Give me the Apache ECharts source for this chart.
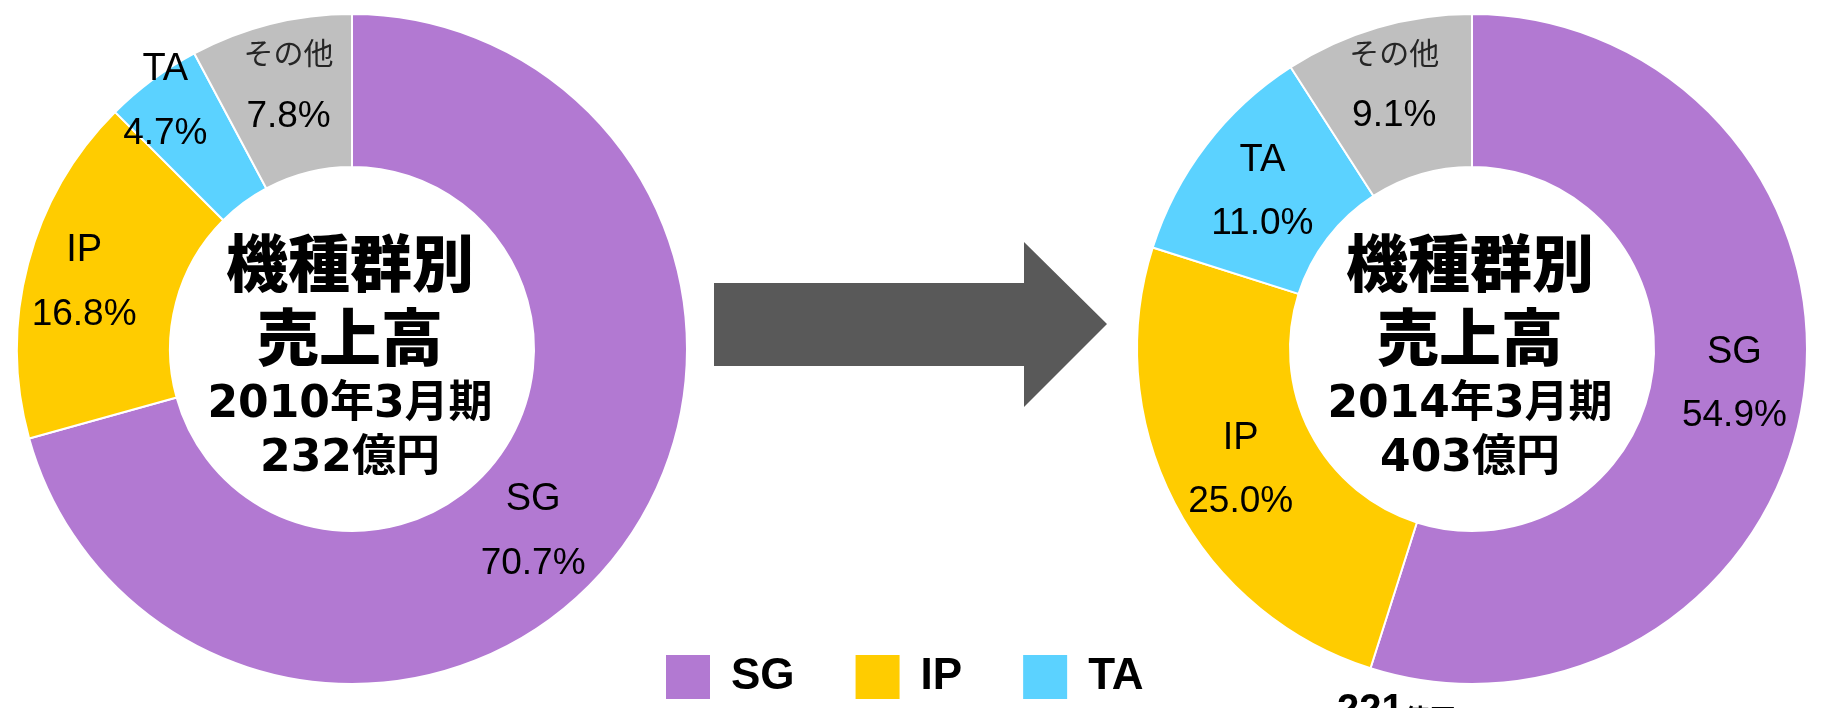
<!DOCTYPE html>
<html>
<head>
<meta charset="utf-8">
<script src="https://cdn.jsdelivr.net/npm/echarts@6/dist/echarts.min.js"></script>
<style>
html,body{margin:0;padding:0;background:#fff;}
#chart{width:1821px;height:708px;}
</style>
</head>
<body>
<div id="chart"></div>
<script>
// ---- data ----
const categories = ['SG', 'IP', 'TA', 'その他'];
const share2010 = [70.7, 16.8, 4.7, 7.8];
const share2014 = [54.9, 25.0, 11.0, 9.1];
const legendNames = ['SG', 'IP', 'TA'];
const centerTitle = ['機種群別', '売上高'];
const periods = ['2010年3月期', '2014年3月期'];
const totals = ['232億円', '403億円'];
const clippedNote = ['221', '億円'];

// ---- styles / layout ----
const colors = ['#B279D2', '#FFCC00', '#5BD2FF', '#BFBFBF'];
const labelOffsets2010 = [[-27, 24], [-15, 0], [-31, -37], [0, -11]];
const labelOffsets2014 = [[4, -5], [1, 1], [-2, 2], [-4, -14]];
const pieCenters = [[352, 349], [1472, 349]];
const radii = [182, 335];

const latin = "'Liberation Sans', 'Arial', sans-serif";
const cjk = "'Noto Sans CJK JP', sans-serif";

function buildData(values, offsets) {
  return categories.map((name, i) => ({
    name: name,
    value: values[i],
    itemStyle: { color: colors[i] },
    label: { offset: offsets[i] }
  }));
}

const labelCfg = {
  show: true,
  position: 'inside',
  formatter: function (p) {
    const nameStyle = p.name === 'その他' ? 'o' : 'n';
    return '{' + nameStyle + '|' + p.name + '}\n{v|' + p.value.toFixed(1) + '%}';
  },
  rich: {
    n: { fontFamily: latin, fontSize: 38, color: '#000', lineHeight: 64, align: 'center' },
    o: { fontFamily: cjk, fontSize: 30, color: '#262626', lineHeight: 64, align: 'center' },
    v: { fontFamily: latin, fontSize: 37, color: '#000', lineHeight: 64, align: 'center' }
  }
};

function pieSeries(values, offsets, center) {
  return {
    type: 'pie',
    center: center,
    radius: radii,
    startAngle: 90,
    clockwise: true,
    avoidLabelOverlap: false,
    silent: true,
    itemStyle: { borderColor: '#fff', borderWidth: 2 },
    label: labelCfg,
    labelLine: { show: false },
    emphasis: { disabled: true },
    data: buildData(values, offsets)
  };
}

function centerTexts(cx, period, total) {
  const heavy = { fontFamily: cjk, fontWeight: 900, fontSize: 62, fill: '#000', textAlign: 'center', textVerticalAlign: 'middle' };
  const mid = { fontFamily: "'DejaVu Sans', 'Noto Sans CJK JP', sans-serif", fontWeight: 'bold', fontSize: 44, fill: '#000', textAlign: 'center', textVerticalAlign: 'middle' };
  return [
    { type: 'text', x: cx, y: 263, style: Object.assign({ text: centerTitle[0] }, heavy) },
    { type: 'text', x: cx, y: 337, style: Object.assign({ text: centerTitle[1] }, heavy) },
    { type: 'text', x: cx, y: 406, style: Object.assign({ text: period }, mid) },
    { type: 'text', x: cx, y: 460, style: Object.assign({ text: total }, mid) }
  ];
}

const chart = echarts.init(document.getElementById('chart'), null, { renderer: 'canvas' });
chart.setOption({
  animation: false,
  backgroundColor: '#fff',
  legend: {
    data: legendNames,
    left: 659,
    top: 648,
    icon: 'rect',
    itemWidth: 46,
    itemHeight: 46,
    itemGap: 59,
    selectedMode: false,
    textStyle: {
      fontFamily: latin,
      fontWeight: 'bold',
      fontSize: 44,
      color: '#000',
      lineHeight: 46,
      padding: [2, 0, 0, 15]
    }
  },
  series: [
    pieSeries(share2010, labelOffsets2010, pieCenters[0]),
    pieSeries(share2014, labelOffsets2014, pieCenters[1])
  ],
  graphic: [
    {
      type: 'polygon',
      shape: { points: [[714, 283], [1024, 283], [1024, 242], [1107, 324], [1024, 407], [1024, 366], [714, 366]] },
      style: { fill: '#595959' },
      silent: true
    }
  ].concat(centerTexts(350, periods[0], totals[0]))
   .concat(centerTexts(1470, periods[1], totals[1]))
   .concat([
    {
      type: 'text',
      x: 1337,
      y: 691,
      silent: true,
      style: {
        text: '{a|' + clippedNote[0] + '}{b|' + clippedNote[1] + '}',
        textVerticalAlign: 'top',
        rich: {
          a: { fontFamily: "'Liberation Sans', sans-serif", fontWeight: 'bold', fontSize: 40, color: '#000', verticalAlign: 'bottom' },
          b: { fontFamily: cjk, fontWeight: 'bold', fontSize: 26, color: '#000', verticalAlign: 'bottom' }
        }
      }
    }
  ])
});
</script>
</body>
</html>
